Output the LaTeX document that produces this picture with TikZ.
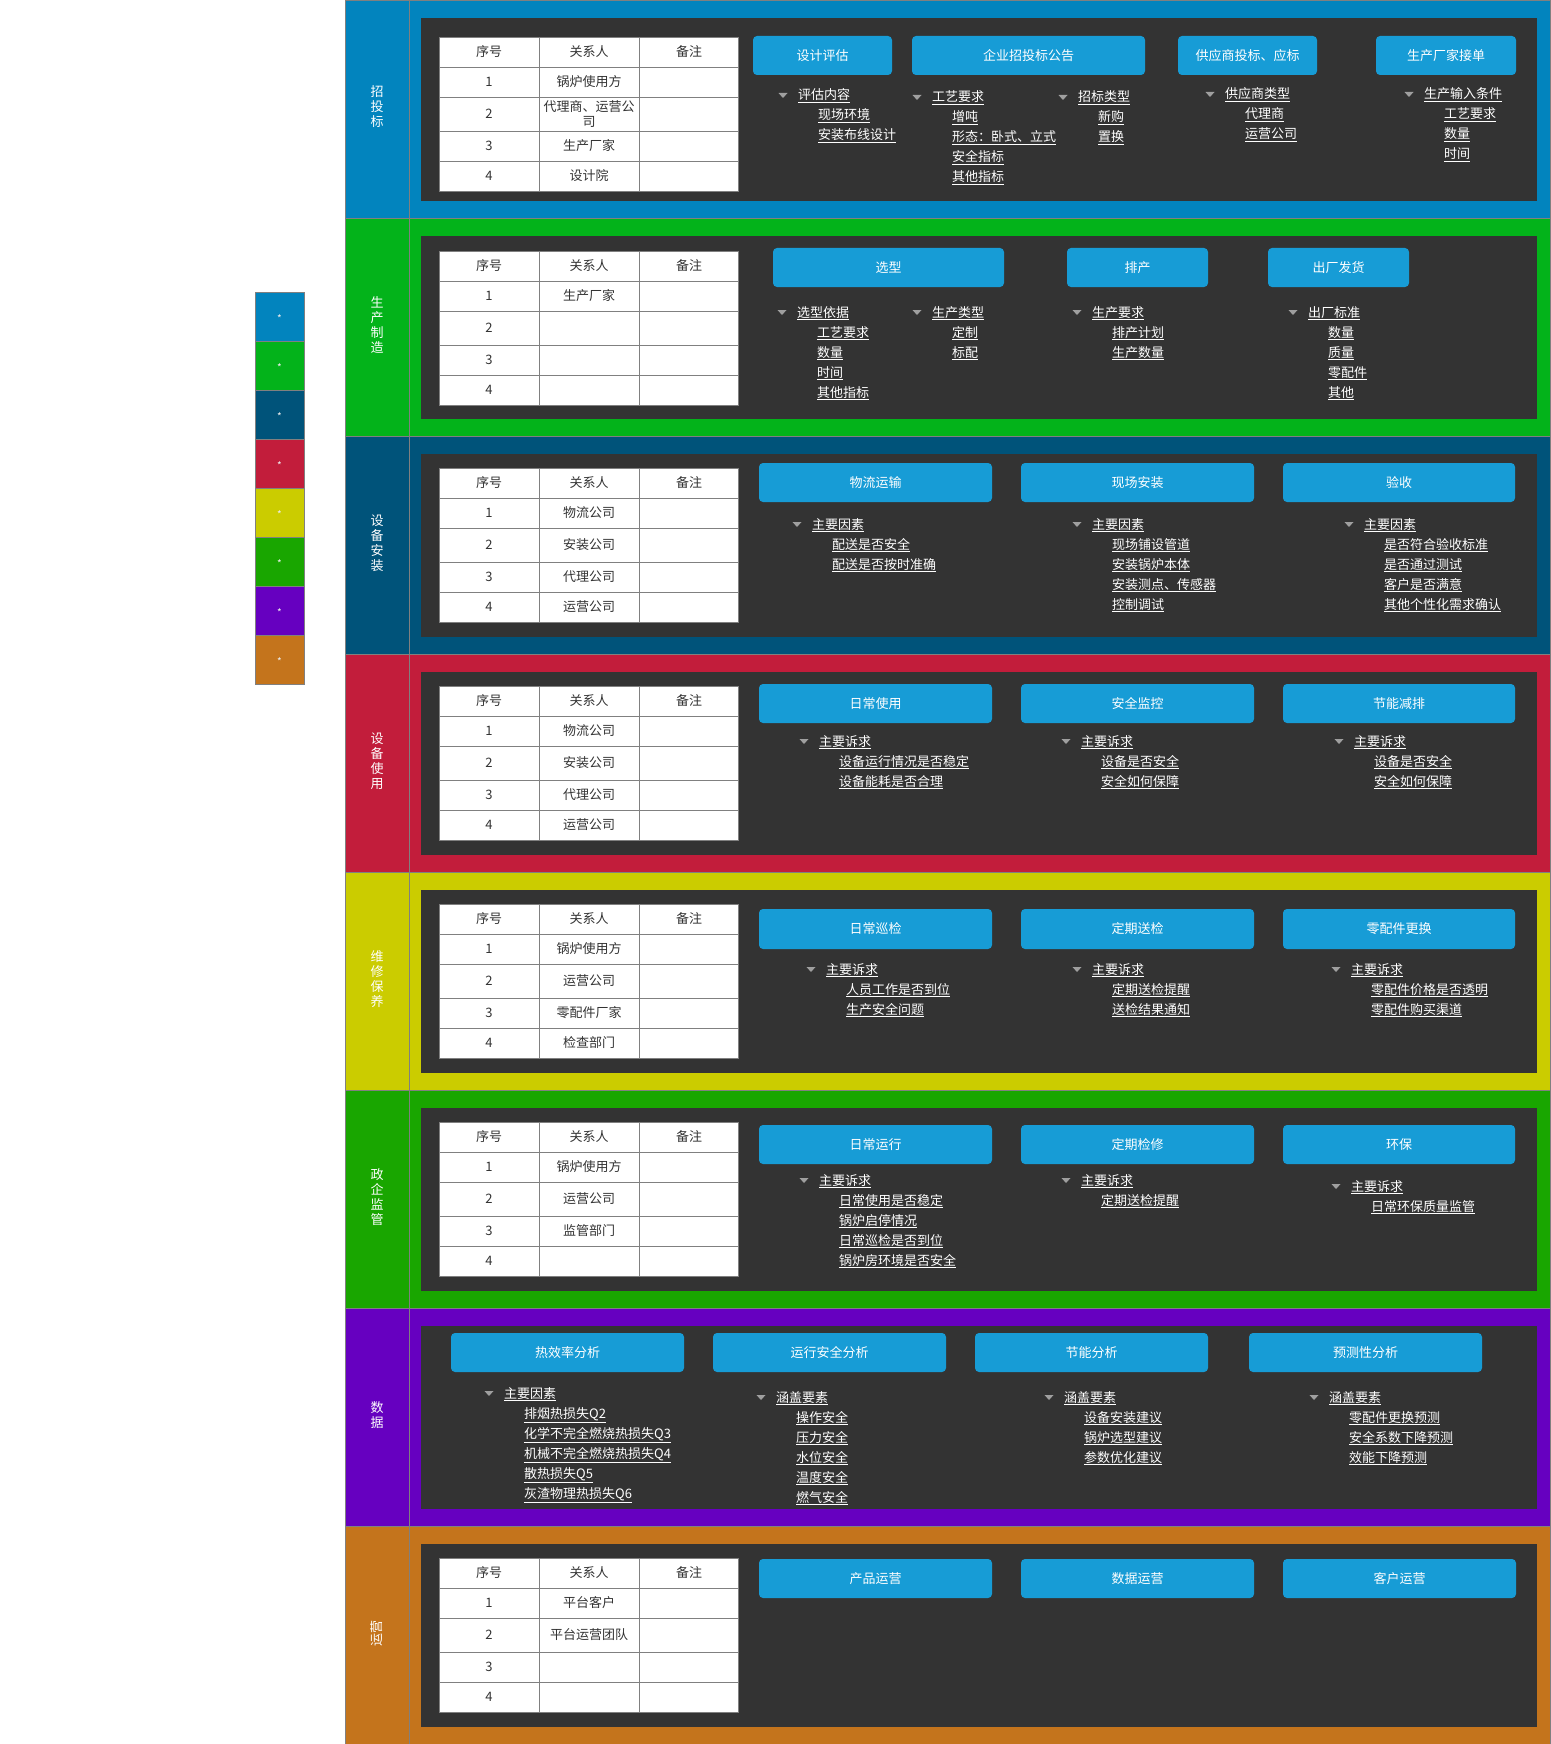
\documentclass[tikz,border=0pt]{standalone}
\usepackage{fontspec}
\setmainfont{Noto Sans CJK SC}
\usepackage{tikz}
\usepackage{xcolor}
\definecolor{bidblue}{RGB}{2,132,190}
\definecolor{makegreen}{RGB}{3,179,26}
\definecolor{installnavy}{RGB}{0,83,122}
\definecolor{usered}{RGB}{194,29,59}
\definecolor{careyellow}{RGB}{203,204,0}
\definecolor{govgreen}{RGB}{25,166,0}
\definecolor{datapurple}{RGB}{102,0,192}
\definecolor{oporange}{RGB}{196,116,28}
\definecolor{panelgray}{RGB}{51,51,51}
\definecolor{taskblue}{RGB}{23,156,214}
\definecolor{rulegray}{RGB}{128,128,128}

% one tree under a task: head with its leaves
\newcommand{\branch}[5]{%
  \fill[gray!75] ({#2-19.5},{#3-2}) -- ({#2-10.5},{#3-2}) -- ({#2-15},{#3+3}) -- cycle;
  \node[head] (#1) at (#2,{#3+5}) {\underline{#4}};
  \foreach \leafname [count=\k] in {#5}
    \node[head] (#1-\k) at ({#2+20},{#3+5+20*\k}) {\underline{\leafname}};
}
% contact table of one lane
\newcommand{\contacts}[6]{%
  \fill[white] (439,#2) rectangle (738,{#2+154});
  \foreach \ya/\yb in {0/30,30/60,60/94,94/124,124/154}
    \draw[rulegray] (439,{#2+\ya}) rectangle (738,{#2+\yb});
  \draw[rulegray] (539,#2) -- (539,{#2+154}) (639,#2) -- (639,{#2+154});
  \node[cell] (#1-h1) at (489,{#2+15}) {序号};
  \node[cell] (#1-h2) at (589,{#2+15}) {关系人};
  \node[cell] (#1-h3) at (689,{#2+15}) {备注};
  \foreach \row/\y/\who in {1/45/{#3},2/77/{#4},3/109/{#5},4/139/{#6}} {
    \node[cell] (#1-n\row) at (489,{#2+\y}) {\row};
    \node[cell] (#1-c\row) at (589,{#2+\y}) {\who};
  }
}

\begin{document}
\begin{tikzpicture}[x=1pt,y=-1pt,
  font=\fontsize{13}{15}\selectfont,
  head/.style={anchor=base west,inner sep=0pt,text=white},
  cell/.style={align=center,inner sep=0pt,text=panelgray},
  task/.style={rounded corners=4pt,fill=taskblue,text=white,inner sep=0pt},
  lanelabel/.style={align=center,text=white,inner sep=0pt}]
  \useasboundingbox (0,0) rectangle (1550,1744);

  % colour key
  \foreach \lanecol [count=\i from 0] in {bidblue,makegreen,installnavy,usered,careyellow,govgreen,datapurple,oporange} {
    \filldraw[fill=\lanecol,draw=rulegray] (255,{292+49*\i}) rectangle (304,{341+49*\i});
    \node[font=\fontsize{10}{10}\selectfont,text=white!85!gray,inner sep=0pt] (key\i) at (279.5,{319+49*\i}) {*};
  }

  % swim lanes
  \foreach \ytop/\lanecol/\lanename/\turn [count=\i] in {
      0/bidblue/{招\\投\\标}/0, 218/makegreen/{生\\产\\制\\造}/0,
      436/installnavy/{设\\备\\安\\装}/0, 654/usered/{设\\备\\使\\用}/0,
      872/careyellow/{维\\修\\保\\养}/0, 1090/govgreen/{政\\企\\监\\管}/0,
      1308/datapurple/{数\\据}/0, 1526/oporange/{运营}/90} {
    \filldraw[fill=\lanecol,draw=rulegray] (345,\ytop) rectangle (1550,{\ytop+218});
    \draw[rulegray] (409,\ytop) -- (409,{\ytop+218});
    \fill[panelgray] (421,{\ytop+18}) rectangle (1537,{\ytop+201});
    \node[lanelabel,rotate=\turn] (lane\i) at (377,{\ytop+107}) {\lanename};
  }

  % contact tables
  \contacts{tbA}{37}{锅炉使用方}{代理商、运营公\\司}{生产厂家}{设计院}
  \contacts{tbB}{251}{生产厂家}{}{}{}
  \contacts{tbC}{468}{物流公司}{安装公司}{代理公司}{运营公司}
  \contacts{tbD}{686}{物流公司}{安装公司}{代理公司}{运营公司}
  \contacts{tbE}{904}{锅炉使用方}{运营公司}{零配件厂家}{检查部门}
  \contacts{tbF}{1122}{锅炉使用方}{运营公司}{监管部门}{}
  \contacts{tbH}{1558}{平台客户}{平台运营团队}{}{}

  % task buttons
  \foreach \xa/\ya/\xb/\yb/\txt [count=\i] in {
      753/37/892/76/设计评估, 912/37/1145/76/企业招投标公告,
      1178/37/1317/76/供应商投标、应标, 1376/37/1516/76/生产厂家接单,
      773/249/1004/288/选型, 1067/249/1208/288/排产, 1268/249/1409/288/出厂发货,
      759/464/992/503/物流运输, 1021/464/1254/503/现场安装, 1283/464/1515/503/验收,
      759/685/992/724/日常使用, 1021/685/1254/724/安全监控, 1283/685/1515/724/节能减排,
      759/910/992/950/日常巡检, 1021/910/1254/950/定期送检, 1283/910/1515/950/零配件更换,
      759/1126/992/1165/日常运行, 1021/1126/1254/1165/定期检修, 1283/1126/1515/1165/环保,
      451/1334/684/1373/热效率分析, 713/1334/946/1373/运行安全分析,
      975/1334/1208/1373/节能分析, 1249/1334/1482/1373/预测性分析,
      759/1560/992/1599/产品运营, 1021/1560/1254/1599/数据运营, 1283/1560/1516/1599/客户运营}
    \node[task,minimum width={\xb-\xa},minimum height={\yb-\ya}] (task\i) at ({(\xa+\xb)/2},{(\ya+\yb)/2-1}) {\txt};

  % trees
  \branch{evalA}{798}{95}{评估内容}{现场环境,安装布线设计}
  \branch{craftA}{932}{97}{工艺要求}{增吨,形态：卧式、立式,安全指标,其他指标}
  \branch{typeA}{1078}{97}{招标类型}{新购,置换}
  \branch{supplyA}{1225}{94}{供应商类型}{代理商,运营公司}
  \branch{inputA}{1424}{94}{生产输入条件}{工艺要求,数量,时间}
  \branch{basisB}{797}{312}{选型依据}{工艺要求,数量,时间,其他指标}
  \branch{kindB}{932}{312}{生产类型}{定制,标配}
  \branch{planB}{1092}{312}{生产要求}{排产计划,生产数量}
  \branch{shipB}{1308}{312}{出厂标准}{数量,质量,零配件,其他}
  \branch{moveC}{812}{524}{主要因素}{配送是否安全,配送是否按时准确}
  \branch{siteC}{1092}{524}{主要因素}{现场铺设管道,安装锅炉本体,安装测点、传感器,控制调试}
  \branch{checkC}{1364}{524}{主要因素}{是否符合验收标准,是否通过测试,客户是否满意,其他个性化需求确认}
  \branch{dailyD}{819}{741}{主要诉求}{设备运行情况是否稳定,设备能耗是否合理}
  \branch{safeD}{1081}{741}{主要诉求}{设备是否安全,安全如何保障}
  \branch{saveD}{1354}{741}{主要诉求}{设备是否安全,安全如何保障}
  \branch{patrolE}{826}{969}{主要诉求}{人员工作是否到位,生产安全问题}
  \branch{sendE}{1092}{969}{主要诉求}{定期送检提醒,送检结果通知}
  \branch{partE}{1351}{969}{主要诉求}{零配件价格是否透明,零配件购买渠道}
  \branch{runF}{819}{1180}{主要诉求}{日常使用是否稳定,锅炉启停情况,日常巡检是否到位,锅炉房环境是否安全}
  \branch{fixF}{1081}{1180}{主要诉求}{定期送检提醒}
  \branch{envF}{1351}{1186}{主要诉求}{日常环保质量监管}
  \branch{heatG}{504}{1393}{主要因素}{排烟热损失Q2,化学不完全燃烧热损失Q3,机械不完全燃烧热损失Q4,散热损失Q5,灰渣物理热损失Q6}
  \branch{opsG}{776}{1397}{涵盖要素}{操作安全,压力安全,水位安全,温度安全,燃气安全}
  \branch{energyG}{1064}{1397}{涵盖要素}{设备安装建议,锅炉选型建议,参数优化建议}
  \branch{predictG}{1329}{1397}{涵盖要素}{零配件更换预测,安全系数下降预测,效能下降预测}
\end{tikzpicture}
\end{document}
